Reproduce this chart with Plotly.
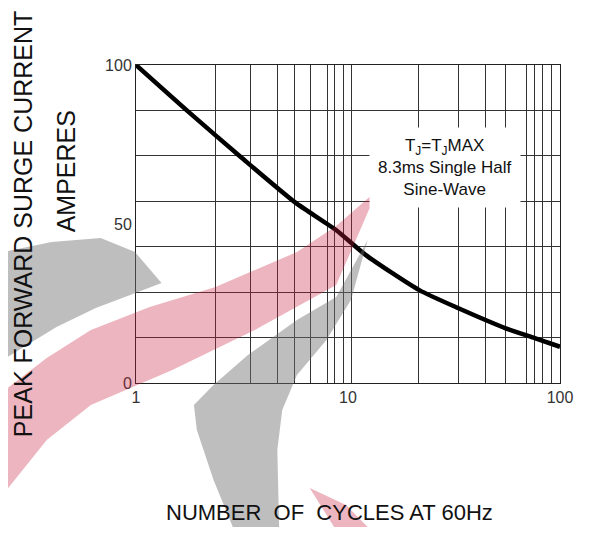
import plotly.graph_objects as go

# ---- data ----
cycles = [1, 1.78, 3.13, 5.63, 8.78, 12.1, 21.7, 33.2, 55.5, 76, 100]
current = [100, 85.1, 71.0, 56.8, 48.1, 40.3, 29.2, 23.5, 17.2, 14.1, 11.4]
x_tick_vals = [1, 10, 100]
x_tick_text = ["1", "10", "100"]
y_tick_vals = [0, 50, 100]
y_tick_text = ["0", "50", "100"]
# grid lines as drawn on the original sheet
x_grid = [2.36, 3.47, 4.67, 5.61, 6.68, 7.98, 8.68, 9.53, 10.4,
          21.5, 33.2, 44.6, 55.6, 69.3, 76.0, 83.0, 91.3]
y_grid = [100 / 7 * k for k in range(1, 7)]

# page has an 8px body margin around the figure
W, H = 577, 519
L, R, T, B = 128, 17, 57, 144
PW, PH = W - L - R, H - T - B
OFF = 8
X0, Y1 = OFF + L, OFF + T + PH   # screen px of plot left / plot bottom


def px(xs, ys):
    """screen pixel -> paper coordinates"""
    return (xs - X0) / PW, (Y1 - ys) / PH


def path(points):
    pts = [px(a, b) for a, b in points]
    s = "M %.4f %.4f " % pts[0]
    for p in pts[1:]:
        s += "L %.4f %.4f " % p
    return s + "Z"


FONT = "Liberation Sans, Arial, sans-serif"

fig = go.Figure()
fig.add_trace(go.Scatter(
    x=cycles, y=current, mode="lines",
    line=dict(color="black", width=4.5, shape="spline", smoothing=0.6),
    showlegend=False, hoverinfo="skip"))

axis_common = dict(showline=True, linecolor="#222", linewidth=1, mirror=True,
                   ticks="", zeroline=False, showgrid=False,
                   tickfont=dict(family=FONT, size=16, color="#333"))

fig.update_xaxes(type="log", range=[0, 2], tickvals=x_tick_vals, ticktext=x_tick_text,
                 minor=dict(tickvals=x_grid, showgrid=True, gridcolor="#333",
                            gridwidth=1, ticks=""),
                 **axis_common)
fig.update_yaxes(range=[0, 100], tickvals=y_tick_vals, ticktext=y_tick_text,
                 minor=dict(tickvals=y_grid, showgrid=True, gridcolor="#333",
                            gridwidth=1, ticks=""),
                 **axis_common)


def note(xs, ys, text, size, angle=0, **kw):
    x, y = px(xs, ys)
    kw.setdefault("borderpad", 0)
    return dict(xref="paper", yref="paper", x=x, y=y, xanchor="center",
                yanchor="middle", text=text, textangle=angle, showarrow=False,
                font=dict(family=FONT, size=size, color="#111"), **kw)


ann = [
    note(451, 167, "T<sub>J</sub>=T<sub>J</sub>MAX<br>8.3ms Single Half<br>Sine-Wave",
         17, bgcolor="white", borderpad=8, align="center"),
    note(21, 224, "PEAK FORWARD SURGE CURRENT", 25, angle=-90),
    note(65, 171, "AMPERES", 25, angle=-90),
    note(333, 512, "NUMBER  OF  CYCLES AT 60Hz", 22),
]

red = "rgba(200,30,60,0.33)"
gray = "rgba(110,110,110,0.45)"


def blob(points, color):
    return dict(type="path", xref="paper", yref="paper", layer="above",
                line=dict(width=0), fillcolor=color, path=path(points))


shapes = [
    blob([(0, 252), (50, 242), (100, 238), (135, 252), (162, 283),
          (130, 295), (95, 308), (55, 327), (20, 348), (0, 360)], gray),
    blob([(0, 392), (45, 358), (90, 330), (150, 307), (217, 287), (300, 252),
          (340, 226), (382, 190), (360, 240), (340, 285), (257, 330),
          (173, 370), (90, 405), (45, 440), (0, 495)], red),
    blob([(238, 535), (215, 480), (198, 430), (195, 405), (215, 385),
          (250, 355), (300, 320), (340, 297), (372, 240), (355, 300),
          (330, 340), (300, 375), (285, 410), (280, 450), (282, 535)], gray),
    blob([(313, 488), (350, 505), (380, 535), (343, 535)], red),
]

fig.update_layout(width=W, height=H, margin=dict(l=L, r=R, t=T, b=B),
                  paper_bgcolor="white", plot_bgcolor="white",
                  annotations=ann, shapes=shapes, showlegend=False)

fig.write_html("out.html")
